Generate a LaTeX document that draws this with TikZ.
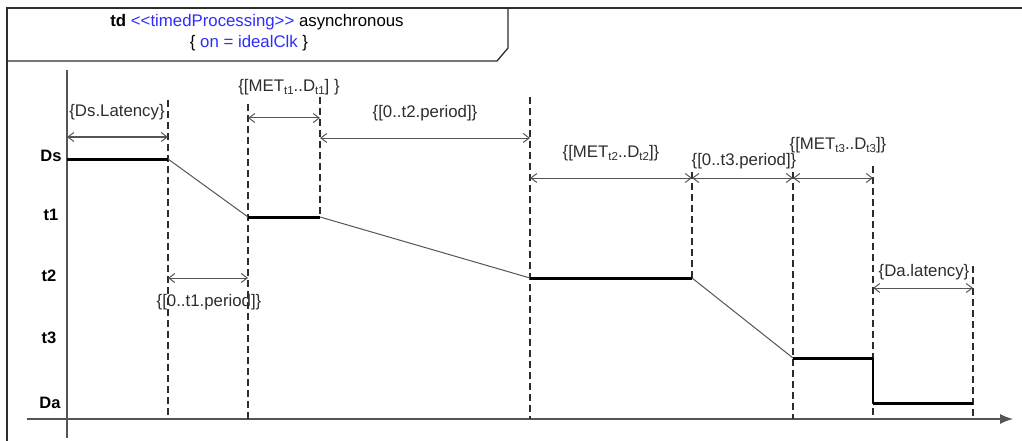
\documentclass[tikz,border=0pt]{standalone}
\usepackage{fontspec}
\setmainfont{Liberation Sans}
\usetikzlibrary{arrows.meta}
\definecolor{umlblue}{RGB}{45,45,255}
\definecolor{ink}{RGB}{45,45,45}
\definecolor{dimc}{RGB}{85,85,85}
\newcommand{\sbs}[1]{\raisebox{-0.35ex}{\fontsize{11.5}{12}\selectfont #1}}
\begin{document}
\begin{tikzpicture}[x=1pt,y=-1pt,
  lab/.style={font=\fontsize{16.8}{19}\selectfont, text=ink, inner sep=0pt},
  lvl/.style={font=\bfseries\fontsize{16.5}{18}\selectfont, text=black, inner sep=0pt},
  guide/.style={draw=ink, line width=1.1pt, dash pattern=on 7pt off 4pt},
  dimline/.style={draw=dimc, line width=1pt,
     {Straight Barb[length=6pt,width=9pt]}-{Straight Barb[length=6pt,width=9pt]}},
  sig/.style={draw=black, line width=3pt},
  slope/.style={draw=dimc, line width=1pt},
  frame/.style={draw=ink, line width=1.3pt}
]
\useasboundingbox (0,0) rectangle (1022,441);

% frame
\coordinate (fbl) at (7,441);
\coordinate (ftl) at (7,8);
\coordinate (ftr) at (1022,8);
\draw[frame, line width=2pt] (fbl) -- (ftl) -- (ftr);
\coordinate (h1) at (7,61);
\coordinate (h2) at (497,61);
\coordinate (h3) at (508,48);
\coordinate (h4) at (508,8);
\draw[frame] (h1) -- (h2) -- (h3) -- (h4);
\node[lab, text=black] (title1) at (257,22) {\textbf{td} \textcolor{umlblue}{<\kern0pt<timedProcessing>\kern0pt>} asynchronous};
\node[lab, text=black] (title2) at (249,43) {\{ \textcolor{umlblue}{on = idealClk} \}};

% axes
\coordinate (yt) at (67,70);
\coordinate (yb) at (67,438);
\coordinate (xl) at (27,419);
\coordinate (xr) at (1013,419);
\draw[draw=dimc, line width=1.2pt] (yt) -- (yb);
\draw[draw=dimc, line width=1.2pt, -{Latex[length=13pt,width=10pt]}] (xl) -- (xr);

% level labels
\node[lvl] (lDs) at (51,156) {Ds};
\node[lvl] (lt1) at (51,215) {t1};
\node[lvl] (lt2) at (49,276) {t2};
\node[lvl] (lt3) at (49,338) {t3};
\node[lvl] (lDa) at (50,403) {Da};

% guides
\coordinate (g1t) at (168,100); \coordinate (g1b) at (168,419);
\coordinate (g2t) at (248,104); \coordinate (g2b) at (248,419);
\coordinate (g3t) at (320,97);  \coordinate (g3b) at (320,217);
\coordinate (g4t) at (530,97);  \coordinate (g4b) at (530,419);
\coordinate (g5t) at (692,172); \coordinate (g5b) at (692,278);
\coordinate (g6t) at (793,172); \coordinate (g6b) at (793,419);
\coordinate (g7t) at (873,166); \coordinate (g7b) at (873,419);
\coordinate (g8t) at (973,266); \coordinate (g8b) at (973,419);
\foreach \g in {1,...,8} { \draw[guide] (g\g t) -- (g\g b); }

% signal
\coordinate (s1) at (67,159);
\coordinate (s2) at (168,159);
\coordinate (s3) at (248,217);
\coordinate (s4) at (320,217);
\coordinate (s5) at (530,278);
\coordinate (s6) at (692,278);
\coordinate (s7) at (793,358);
\coordinate (s8) at (873,358);
\coordinate (s9) at (873,403);
\coordinate (s10) at (973,403);
\draw[sig] (s1) -- (s2);
\draw[slope] (s2) -- (s3);
\draw[sig] (s3) -- (s4);
\draw[slope] (s4) -- (s5);
\draw[sig] (s5) -- (s6);
\draw[slope] (s6) -- (s7);
\draw[sig] (s7) -- (s8);
\draw[draw=black, line width=2pt] (s8) -- (s9);
\draw[sig] (s9) -- (s10);

% dimensions
\coordinate (d1a) at (67,137);  \coordinate (d1b) at (168,137);
\coordinate (d2a) at (168,278); \coordinate (d2b) at (248,278);
\coordinate (d3a) at (248,118); \coordinate (d3b) at (320,118);
\coordinate (d4a) at (320,138); \coordinate (d4b) at (530,138);
\coordinate (d5a) at (530,178); \coordinate (d5b) at (692,178);
\coordinate (d6a) at (692,178); \coordinate (d6b) at (793,178);
\coordinate (d7a) at (793,178); \coordinate (d7b) at (873,178);
\coordinate (d8a) at (873,288); \coordinate (d8b) at (973,288);
\foreach \d in {1,...,8} { \draw[dimline] (d\d a) -- (d\d b); }

% dimension labels
\node[lab] (n1) at (117,112) {\{Ds.Latency\}};
\node[lab] (n2) at (209,302) {\{[0..t1.period]\}};
\node[lab] (n3) at (289,87) {\{[MET\sbs{t1}..D\sbs{t1}] \}};
\node[lab] (n4) at (425,113) {\{[0..t2.period]\}};
\node[lab] (n5) at (611,153) {\{[MET\sbs{t2}..D\sbs{t2}]\}};
\node[lab] (n6) at (744,161) {\{[0..t3.period]\}};
\node[lab] (n7) at (838,145) {\{[MET\sbs{t3}..D\sbs{t3}]\}};
\node[lab] (n8) at (924,272) {\{Da.latency\}};
\end{tikzpicture}
\end{document}
